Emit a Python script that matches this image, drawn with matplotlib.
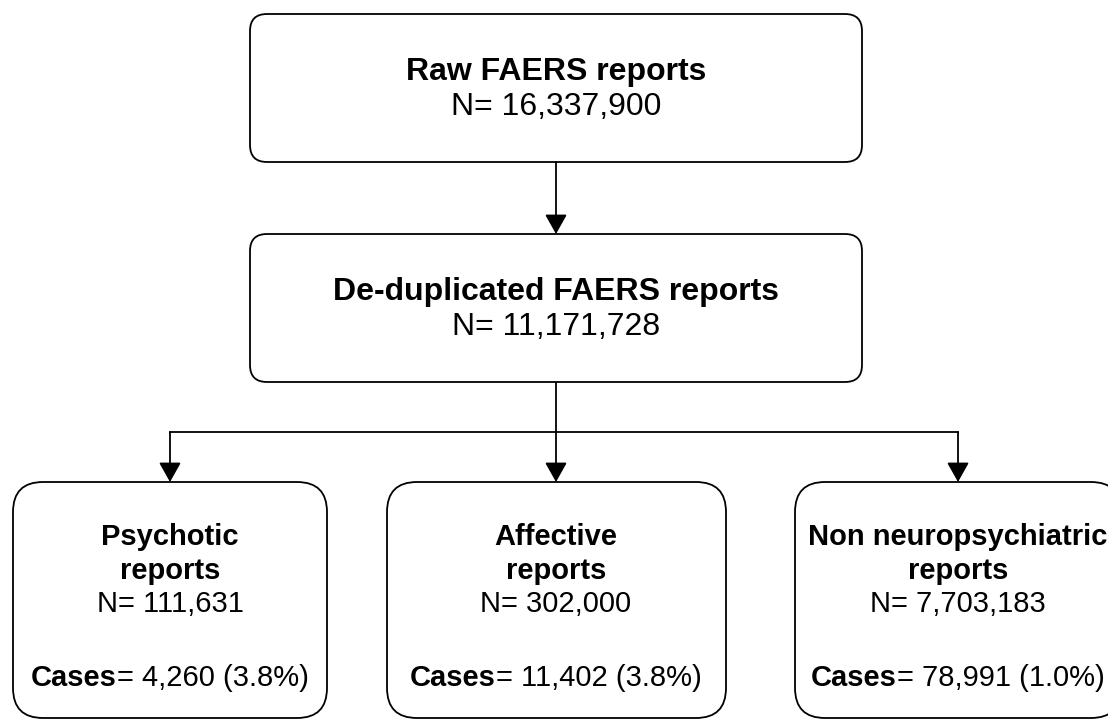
import matplotlib
matplotlib.use("Agg")
import matplotlib.pyplot as plt
from matplotlib.patches import FancyBboxPatch

plt.rcParams["font.family"] = ["Liberation Sans", "DejaVu Sans"]

# ---- data ----
top_titles = ["Raw FAERS reports", "De-duplicated FAERS reports"]
top_counts = [16337900, 11171728]

group_titles = ["Psychotic\nreports", "Affective\nreports", "Non neuropsychiatric\nreports"]
group_counts = [111631, 302000, 7703183]
group_cases = [4260, 11402, 78991]
group_pct = [3.8, 3.8, 1.0]

# ---- layout (pixel coords, y down) ----
W, H = 1108, 720
top_boxes = [(250, 14, 612, 148), (250, 234, 612, 148)]    # x, y, w, h
bot_boxes = [(13, 482, 314, 236), (387, 482, 339, 236), (795, 482, 326, 236)]
branch_y = 432
FS_TOP = 23
FS_BOT = 21
LW = 1.3

fig = plt.figure(figsize=(W / 100, H / 100), dpi=100)
ax = fig.add_axes([0, 0, 1, 1])
ax.set_xlim(0, W); ax.set_ylim(H, 0); ax.axis("off")


def rbox(x, y, w, h, r):
    ax.add_patch(FancyBboxPatch((x + r, y + r), w - 2 * r, h - 2 * r,
                                boxstyle=f"round,pad={r},rounding_size={r}",
                                fc="white", ec="black", lw=LW, zorder=2))


def arrow(x0, y0, x1, y1):
    ax.annotate("", xy=(x1, y1), xytext=(x0, y0),
                arrowprops=dict(arrowstyle="-|>,head_length=0.8,head_width=0.45",
                                mutation_scale=15, lw=LW, color="black",
                                shrinkA=0, shrinkB=0), zorder=3)


for (x, y, w, h), title, n in zip(top_boxes, top_titles, top_counts):
    rbox(x, y, w, h, 17)
    cx = x + w / 2
    ax.text(cx, y + 58, title, ha="center", va="center", fontsize=FS_TOP, fontweight="bold")
    ax.text(cx, y + 93, f"N= {n:,}", ha="center", va="center", fontsize=FS_TOP)

cx_top = top_boxes[0][0] + top_boxes[0][2] / 2
arrow(cx_top, top_boxes[0][1] + top_boxes[0][3], cx_top, top_boxes[1][1])

# branch connectors
y_from = top_boxes[1][1] + top_boxes[1][3]
centers = [170, cx_top, 958]
ax.plot([cx_top, cx_top], [y_from, branch_y], color="black", lw=LW, zorder=1)
ax.plot([centers[0], centers[-1]], [branch_y, branch_y], color="black", lw=LW, zorder=1)
for c, (x, y, w, h) in zip(centers, bot_boxes):
    arrow(c, branch_y, c, y)

fig.canvas.draw()
renderer = fig.canvas.get_renderer()

for c, (x, y, w, h), title, n, k, p in zip(centers, bot_boxes, group_titles,
                                           group_counts, group_cases, group_pct):
    rbox(x, y, w, h, 30)
    ax.text(c, y + 72, title, ha="center", va="center", fontsize=FS_BOT,
            fontweight="bold", linespacing=1.28)
    ax.text(c, y + 122, f"N= {n:,}", ha="center", va="center", fontsize=FS_BOT)
    # "Cases" bold, the rest regular, centred together
    t1 = ax.text(0, y + 196, "Cases", ha="left", va="center", fontsize=FS_BOT, fontweight="bold")
    t2 = ax.text(0, y + 196, f"= {k:,} ({p:.1f}%)", ha="left", va="center", fontsize=FS_BOT)
    w1 = t1.get_window_extent(renderer).width
    w2 = t2.get_window_extent(renderer).width
    x0 = c - (w1 + w2) / 2
    t1.set_x(x0)
    t2.set_x(x0 + w1)

fig.savefig("out.png", dpi=100)
